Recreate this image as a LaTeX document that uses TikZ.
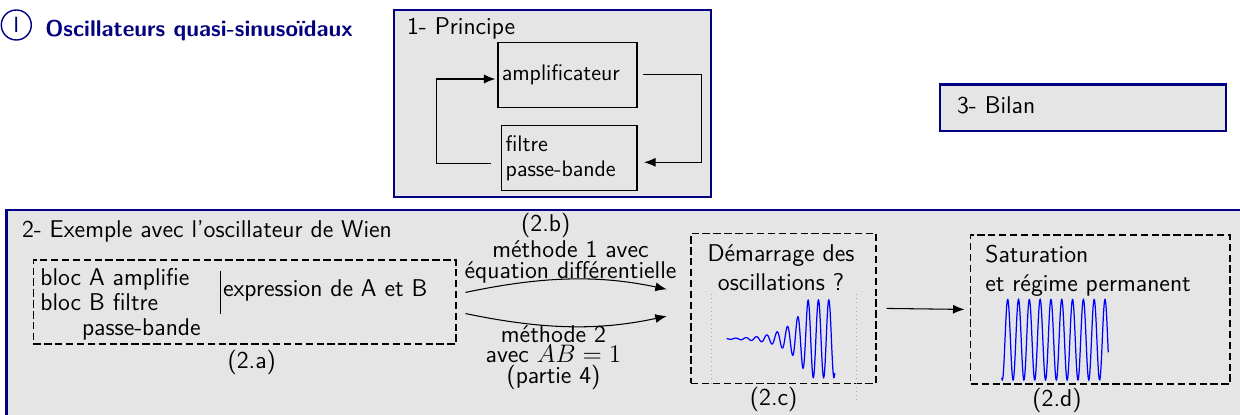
\documentclass[tikz,border=0pt]{standalone}
\usepackage{tikz}
\usetikzlibrary{arrows.meta, positioning}
\definecolor{bleutitre}{RGB}{0,0,128}

\begin{document}
\begin{tikzpicture}[
    >={Latex[length=2.3mm, width=1.8mm]},
    font=\sffamily\fontsize{13.8}{16.2}\selectfont,
    cadre/.style={draw=bleutitre, line width=1.6pt, fill=gray!20}, % cadres des sous-parties
    bloc/.style={draw, line width=0.9pt, inner sep=0.08cm, align=left, minimum height=1.3cm,
        font=\sffamily\fontsize{12.8}{14.6}\selectfont},
    pointille/.style={draw, line width=0.8pt, dash pattern=on 4.2pt off 2pt},
    texte/.style={inner sep=0pt},
    fleche/.style={->, line width=0.6pt},
    signal/.style={blue, line width=0.7pt}
    ]
\useasboundingbox (0,0) rectangle (24.8,8.28);
\clip (0,0) rectangle (24.8,8.28);

% titre de la partie
\node[circle, draw=bleutitre, line width=0.8pt, minimum size=0.6cm, inner sep=0pt, text=bleutitre,
    font=\sffamily\fontsize{12.5}{14}\selectfont] (num) at (0.326,7.78) {I};
\node[texte, anchor=base west, text=bleutitre, font=\sffamily\bfseries\fontsize{12.96}{15}\selectfont] (titre) at (0.90,7.546) {Oscillateurs quasi-sinusoïdaux};

% 1- Principe
\draw[cadre] (7.88,8.08) rectangle (14.22,4.34);
\node[texte, anchor=base west] (t1) at (8.134,7.58) {1- Principe};
\node[bloc, text width=2.63cm] (ampli) at (11.35,6.784) {amplificateur};
\node[bloc, text width=2.54cm] (filtre) at (11.384,5.116) {filtre\\passe-bande};
\draw[fleche, shorten <=0.1cm, shorten >=0.13cm] (ampli.east) -- ++(1.268,0) |- ([yshift=-0.082cm]filtre.east);
\draw[fleche, shorten <=0.2cm, shorten >=0.03cm] ([yshift=-0.1cm]filtre.west) -- ++(-1.28,0) |- ([yshift=-0.084cm]ampli.west);

% 3- Bilan
\draw[cadre] (18.80,6.594) rectangle (24.52,5.66);
\node[texte, anchor=base west] (t3) at (19.134,6.014) {3- Bilan};

% 2- Exemple
\draw[cadre] (0.13,4.08) rectangle (25.5,-1);
\node[texte, anchor=base west] (t2) at (0.434,3.526) {2- Exemple avec l'oscillateur de Wien};

% (2.a)
\node[pointille, minimum width=8.454cm, minimum height=1.68cm] (boxa) at (4.893,2.24) {};
\node[texte, anchor=base west, align=left, font=\sffamily\fontsize{13.8}{14.2}\selectfont] (blocs) at (0.80,1.58) {bloc A amplifie\\bloc B filtre\\\hspace*{0.834cm}passe-bande};
\draw[line width=0.6pt] (4.414,2.866) -- (4.414,1.999);
\node[texte, anchor=base west] (expr) at (4.454,2.346) {expression de A et B};
\node (la) at (5.034,1.03) {(2.a)};

% (2.b)
\node (lb) at (10.916,3.78) {(2.b)};
\node[texte, anchor=base, align=center, font=\sffamily\fontsize{13.8}{11.6}\selectfont] (m1) at (11.41,2.714) {méthode 1 avec\\équation différentielle};
\node[texte, anchor=base, align=center, font=\sffamily\fontsize{13.8}{11.6}\selectfont] (m2) at (11.07,0.62) {méthode 2\\avec $AB=1$\\(partie 4)};

% (2.c)
\node[pointille, minimum width=3.70cm, minimum height=3.0cm] (boxc) at (15.67,2.114) {};
\node[texte, anchor=base, align=center, font=\sffamily\fontsize{13.8}{16.1}\selectfont] (demarrage) at (15.62,2.48) {Démarrage des\\oscillations ?};
\draw[gray!70, dotted] (14.22,2.40) -- (14.22,0.62);
\draw[gray!70, dotted] (17.12,2.40) -- (17.12,0.214);
\draw[signal] plot[domain=14.534:16.70, samples=400] (\x, {1.504 + 0.776*min(1,exp((\x-16.16)/0.36))*cos(360*(\x-16.576)/0.207)});
\node (lc) at (15.474,0.30) {(2.c)};

% (2.d)
\node[pointille, minimum width=5.186cm, minimum height=2.98cm] (boxd) at (22.007,2.09) {};
\node[texte, anchor=base west, align=left, font=\sffamily\fontsize{13.8}{16.4}\selectfont] (satur) at (19.70,2.446) {Saturation\\et régime permanent};
\draw[signal] plot[domain=20.034:22.166, samples=400] (\x, {1.486 + 0.806*cos(360*(\x-20.154)/0.2162)});
\node (ld) at (21.14,0.28) {(2.d)};

% liaisons
\draw[fleche, shorten <=0.18cm, shorten >=0.48cm] ([yshift=0.154cm]boxa.east) to[bend left=12] ([yshift=0.28cm]boxc.west);
\draw[fleche, shorten <=0.18cm, shorten >=0.48cm] ([yshift=-0.194cm]boxa.east) to[bend right=12] ([yshift=-0.054cm]boxc.west);
\draw[fleche, shorten <=0.2cm, shorten >=0.11cm] (boxc.east) -- (boxd.west);
\end{tikzpicture}
\end{document}
